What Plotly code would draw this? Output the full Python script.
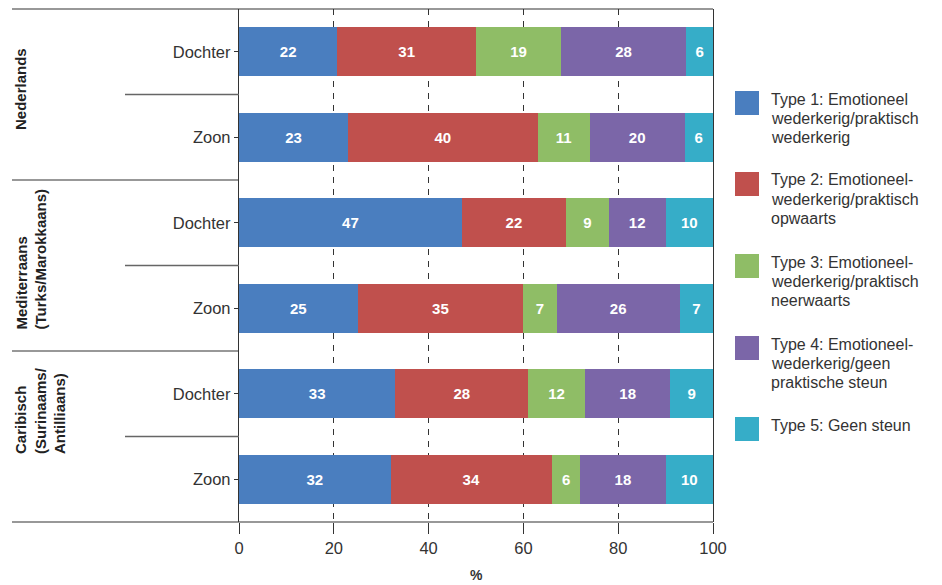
import plotly.graph_objects as go

# ---- data ----
row_ids = ["NL-D", "NL-Z", "MED-D", "MED-Z", "CAR-D", "CAR-Z"]
row_labels = ["Dochter", "Zoon", "Dochter", "Zoon", "Dochter", "Zoon"]
groups = ["Nederlands", "Mediterraans<br>(Turks/Marokkaans)", "Caribisch<br>(Surinaams/<br>Antilliaans)"]

type_names = [
    ["Type 1: Emotioneel", "wederkerig/praktisch", "wederkerig"],
    ["Type 2: Emotioneel-", "wederkerig/praktisch", "opwaarts"],
    ["Type 3: Emotioneel-", "wederkerig/praktisch", "neerwaarts"],
    ["Type 4: Emotioneel-", "wederkerig/geen", "praktische steun"],
    ["Type 5: Geen steun"],
]
type1 = [22, 23, 47, 25, 33, 32]
type2 = [31, 40, 22, 35, 28, 34]
type3 = [19, 11, 9, 7, 12, 6]
type4 = [28, 20, 12, 26, 18, 18]
type5 = [6, 6, 10, 7, 9, 10]
series = [type1, type2, type3, type4, type5]
colors = ["#4A7EBF", "#C0504D", "#8FBD66", "#7B66A8", "#36ADC8"]
x_ticks = [0, 20, 40, 60, 80, 100]

totals = [sum(s[i] for s in series) for i in range(len(row_ids))]

fig = go.Figure()
for vals, col in zip(series, colors):
    fig.add_trace(go.Bar(
        y=row_ids, x=[v / t * 100 for v, t in zip(vals, totals)],
        orientation="h", marker=dict(color=col, line=dict(width=0)),
        width=0.57, text=[str(v) for v in vals], textposition="inside",
        insidetextanchor="middle", textangle=0,
        textfont=dict(color="white", size=15, family="Liberation Sans", weight="bold"),
        showlegend=False, hoverinfo="skip",
    ))

L, R, T, B = 239, 229, 9, 63
W, H = 942, 585
pw = W - L - R
ph = H - T - B

def px_to_paper_x(px):
    return (px - L) / pw

def px_to_paper_y(py):
    return 1 - (py - T) / ph

shapes = []
line_col = "#333333"
for yy in [0, 1]:
    shapes.append(dict(type="line", xref="paper", yref="paper", x0=px_to_paper_x(12), x1=1,
                       y0=yy, y1=yy, line=dict(color=line_col, width=1.2)))
for k in [2, 4]:
    shapes.append(dict(type="line", xref="paper", yref="paper", x0=px_to_paper_x(12), x1=0,
                       y0=1 - k / 6, y1=1 - k / 6, line=dict(color=line_col, width=1.2)))
for k in [1, 3, 5]:
    shapes.append(dict(type="line", xref="paper", yref="paper", x0=px_to_paper_x(125), x1=0,
                       y0=1 - k / 6, y1=1 - k / 6, line=dict(color="#666666", width=1.5)))

annotations = []
group_pos = [(20, 89), (30.5, 259), (40, 411)]
for g, (gx, gy) in zip(groups, group_pos):
    annotations.append(dict(text=g, xref="paper", yref="paper", x=px_to_paper_x(gx), y=px_to_paper_y(gy),
                            xanchor="center", yanchor="middle", textangle=-90, showarrow=False, align="left",
                            font=dict(size=15, color="#222222", family="Liberation Sans", weight="bold")))

# legend (manual)
sw_tops = [91, 172, 254, 336, 417]
line_gap = 19
for lines, col, top in zip(type_names, colors, sw_tops):
    shapes.append(dict(type="rect", xref="paper", yref="paper",
                       x0=px_to_paper_x(735), x1=px_to_paper_x(759),
                       y0=px_to_paper_y(top), y1=px_to_paper_y(top + 24),
                       fillcolor=col, line=dict(width=0)))
    first_center = top + 8
    for j, ln in enumerate(lines):
        annotations.append(dict(text=ln, xref="paper", yref="paper", x=px_to_paper_x(769),
                                y=px_to_paper_y(first_center + j * line_gap),
                                xanchor="left", yanchor="middle", align="left", showarrow=False,
                                font=dict(size=16, color="#333333", family="Liberation Sans")))

annotations.append(dict(text="%", xref="paper", yref="paper", x=0.5, y=px_to_paper_y(575),
                        xanchor="center", yanchor="middle", showarrow=False,
                        font=dict(size=14, color="#333333", family="Liberation Sans", weight="bold")))

fig.update_layout(
    barmode="stack", width=W, height=H,
    margin=dict(l=L, r=R, t=T, b=B, pad=0),
    plot_bgcolor="white", paper_bgcolor="white",
    font=dict(family="Liberation Sans", color="#333333", size=16),
    uniformtext=dict(minsize=15, mode="show"),
    shapes=shapes, annotations=annotations,
    xaxis=dict(range=[0, 100], tickvals=x_ticks, ticks="outside", ticklen=11, tickcolor=line_col,
               showgrid=True, gridcolor=line_col, griddash="6px,6px", gridwidth=1,
               zeroline=False, showline=False, tickfont=dict(size=16.5, color="#333333")),
    yaxis=dict(type="category", categoryorder="array", categoryarray=row_ids,
               tickvals=row_ids, ticktext=row_labels, range=[5.5, -0.5],
               showline=True, mirror=True, linecolor=line_col, linewidth=1.2,
               ticks="outside", ticklen=4, tickcolor=line_col, showgrid=False,
               tickfont=dict(size=16.5, color="#333333")),
)

fig.write_html("out.html", config={"displayModeBar": False, "staticPlot": True},
               post_script="document.body.style.margin='0';document.body.style.overflow='hidden';")
